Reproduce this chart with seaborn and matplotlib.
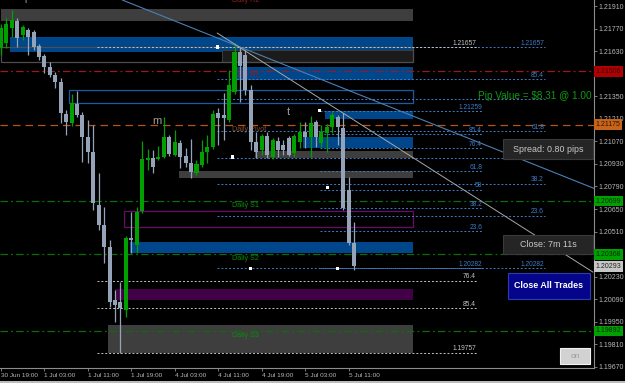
import numpy as np
import pandas as pd
import seaborn as sns
import matplotlib
matplotlib.use("Agg")
import matplotlib.pyplot as plt
import matplotlib.transforms as mtransforms
from matplotlib.patches import Rectangle

# ---------------- data (EURUSD-like H1 candles) -------------
opens = [1.21651, 1.21682, 1.21775, 1.21818, 1.21731, 1.21763, 1.21750, 1.21663, 1.21601, 1.21533,
         1.21483, 1.21439, 1.21241, 1.21185, 1.21303, 1.21234, 1.21098, 1.21004, 1.20675, 1.20551,
         1.20414, 1.20085, 1.20072, 1.20022, 1.20470, 1.20426, 1.20638, 1.20955, 1.20967, 1.20961,
         1.20973, 1.21098, 1.20986, 1.21060, 1.20980, 1.20936, 1.20874, 1.20924, 1.21004, 1.21035,
         1.21247, 1.21234, 1.21203, 1.21377, 1.21626, 1.21607, 1.21390, 1.21066, 1.21017, 1.21104,
         1.20973, 1.21073, 1.21048, 1.21091, 1.20998, 1.21066, 1.21129, 1.21098, 1.21191, 1.21060,
         1.21122, 1.21160, 1.21222, 1.21153, 1.20768, 1.20439]
highs = [1.21800, 1.21837, 1.21887, 1.21837, 1.21794, 1.21775, 1.21763, 1.21676, 1.21614, 1.21564,
         1.21502, 1.21464, 1.21265, 1.21365, 1.21384, 1.21253, 1.21203, 1.21172, 1.20874, 1.20663,
         1.20457, 1.20147, 1.20196, 1.20482, 1.20631, 1.20663, 1.21073, 1.21023, 1.21017, 1.21042,
         1.21222, 1.21110, 1.21141, 1.21079, 1.21029, 1.21085, 1.20955, 1.21079, 1.21110, 1.21265,
         1.21278, 1.21371, 1.21514, 1.21682, 1.21657, 1.21638, 1.21421, 1.21129, 1.21116, 1.21129,
         1.21091, 1.21098, 1.21079, 1.21104, 1.21116, 1.21191, 1.21191, 1.21228, 1.21203, 1.21172,
         1.21178, 1.21253, 1.21234, 1.21247, 1.20849, 1.20569]
lows = [1.21607, 1.21651, 1.21719, 1.21657, 1.21700, 1.21607, 1.21638, 1.21576, 1.21495, 1.21470,
        1.21402, 1.21185, 1.21110, 1.21166, 1.21222, 1.20942, 1.20936, 1.20644, 1.20520, 1.20315,
        1.20041, 1.19948, 1.19757, 1.19979, 1.20377, 1.20377, 1.20625, 1.20892, 1.20874, 1.20955,
        1.20967, 1.20980, 1.20980, 1.20905, 1.20911, 1.20843, 1.20861, 1.20911, 1.20936, 1.21023,
        1.21048, 1.21079, 1.21191, 1.21365, 1.21315, 1.21359, 1.21017, 1.20967, 1.20986, 1.20967,
        1.20961, 1.20973, 1.20986, 1.20980, 1.20973, 1.21029, 1.21029, 1.20973, 1.21035, 1.21035,
        1.21004, 1.21122, 1.21048, 1.20644, 1.20426, 1.20271]
closes = [1.21775, 1.21800, 1.21825, 1.21713, 1.21781, 1.21719, 1.21657, 1.21595, 1.21533, 1.21483,
          1.21439, 1.21247, 1.21191, 1.21309, 1.21234, 1.21098, 1.21004, 1.20687, 1.20551, 1.20414,
          1.20072, 1.20053, 1.20035, 1.20470, 1.20457, 1.20631, 1.20961, 1.20967, 1.20911, 1.20973,
          1.21098, 1.20992, 1.21066, 1.20973, 1.20936, 1.20880, 1.20930, 1.21004, 1.21035, 1.21241,
          1.21216, 1.21216, 1.21421, 1.21626, 1.21539, 1.21390, 1.21066, 1.21004, 1.21104, 1.20986,
          1.21079, 1.21017, 1.21017, 1.20986, 1.21104, 1.21129, 1.21098, 1.21185, 1.21098, 1.21129,
          1.21160, 1.21234, 1.21160, 1.20656, 1.20439, 1.20293]

time_tick_bars = [0, 8, 16, 24, 32, 40, 48, 56, 64]
time_tick_labels = ["30 Jun 19:00", "1 Jul 03:00", "1 Jul 11:00", "1 Jul 19:00", "4 Jul 03:00",
                    "4 Jul 11:00", "4 Jul 19:00", "5 Jul 03:00", "5 Jul 11:00"]
price_ticks = [1.21910, 1.21770, 1.21630, 1.21490, 1.21350, 1.21210, 1.21070, 1.20930, 1.20790,
               1.20650, 1.20510, 1.20370, 1.20230, 1.20090, 1.19950, 1.19810, 1.19670]
# tick labels that sit fully behind a price marker box in the reference
hidden_tick_labels = [1.21490, 1.20370]

# supply / demand zones: (start bar, end bar, low, high)
zone_start = [0.0, 1.7, 42.5, 59.7, 55.6, 46.8, 32.8, 23.8, 21.0, 19.7]
zone_end = [75.9, 75.9, 75.9, 75.9, 75.9, 75.9, 75.9, 75.9, 75.9, 75.9]
zone_low = [1.21818, 1.21626, 1.21452, 1.21209, 1.21029, 1.20967, 1.20843, 1.20377, 1.20085, 1.19755]
zone_high = [1.21893, 1.21719, 1.21533, 1.21259, 1.21098, 1.21011, 1.20886, 1.20445, 1.20153, 1.19929]
zone_kind = ["gray", "blue", "blue", "blue", "blue", "gray", "gray", "blue", "purple", "gray"]

# outlined boxes: (start bar, low, high)
box_start = [0.0, 12.5, 22.6]
box_low = [1.21564, 1.21309, 1.20538]
box_high = [1.21657, 1.21390, 1.20638]
box_kind = ["gray", "blue", "purple"]

# daily pivots
pivot_names = ["Daily R1", "Daily Pivot", "Daily S1", "Daily S2", "Daily S3"]
pivot_prices = [1.21506, 1.21175, 1.20699, 1.20368, 1.19892]

# Fibonacci sets
fibA_prices = [1.21657, 1.21456, 1.21333, 1.21132, 1.20970, 1.20807, 1.20607, 1.20282]
fibA_labels = ["1.21657", "85.4", "", "61.8", "50", "38.2", "23.6", "1.20282"]
fibB_prices = [1.21259, 1.21116, 1.21028, 1.20886, 1.20771, 1.20655, 1.20513, 1.20282]
fibB_labels = ["1.21259", "85.4", "76.4", "61.8", "50", "38.2", "23.6", "1.20282"]
fibC_prices = [1.21657, 1.20205, 1.20034, 1.19757]
fibC_labels = ["1.21657", "76.4", "85.4", "1.19757"]

# anchor dots
dot_bars = [39.8, 42.7, 58.7, 60.2, 45.9, 61.9]
dot_prices = [1.21657, 1.20973, 1.21265, 1.20781, 1.20283, 1.20283]

# trend lines: (bar, price) pairs
blue_trend = ([44.0, 109.0], [1.21657, 1.20781])
gray_trend = ([39.8, 109.0], [1.21744, 1.20258])

# right-edge price markers
marker_prices = [1.21506, 1.21175, 1.20699, 1.20368, 1.20293, 1.19892]
marker_kind = ["red", "orange", "green", "green", "gray", "green"]

# ---------------- styling ----------------
sns.set_theme(style="ticks", rc={
    "figure.facecolor": "black", "axes.facecolor": "black", "savefig.facecolor": "black",
    "axes.edgecolor": "#8c8c8c", "text.color": "#c0c0c0",
    "xtick.color": "#8c8c8c", "ytick.color": "#8c8c8c",
    "xtick.labelcolor": "#b8b8b8", "ytick.labelcolor": "#b8b8b8", "axes.grid": False})
plt.rcParams["font.family"] = ["Liberation Sans", "DejaVu Sans"]

W, H = 625, 383
fig = plt.figure(figsize=(W / 100, H / 100), dpi=100)
ax = fig.add_axes([0, 15 / H, 594 / W, 368 / H])
ax.set_facecolor("black")
ax.set_xlim(-0.184, 109.2)
ax.set_ylim(1.19662, 1.21949)

zone_colors = {"gray": "#3e3e3e", "blue": "#00468a", "purple": "#420046"}
for s, e, lo, hi, k in zip(zone_start, zone_end, zone_low, zone_high, zone_kind):
    ax.add_patch(Rectangle((s, lo), e - s, hi - lo, facecolor=zone_colors[k], edgecolor="none", zorder=1))

# dark filled box inside the grey outlined box
ax.add_patch(Rectangle((40.7, 1.21564), 75.9 - 40.7, 1.21638 - 1.21564,
                       facecolor="#1b1b1b", edgecolor="#3a3a3a", lw=0.8, zorder=1.2))
box_colors = {"gray": "#4e4e4e", "blue": "#1d5aa6", "purple": "#6c0a6c"}
for s, lo, hi, k in zip(box_start, box_low, box_high, box_kind):
    ax.add_patch(Rectangle((s, lo), 75.9 - s, hi - lo, facecolor="none",
                           edgecolor=box_colors[k], lw=0.9, zorder=1.5))

# pivot lines
piv_color = ["#9c1a1a", "#b4561c", "#0a6e0a", "#0a6e0a", "#0a6e0a"]
piv_text = ["#8e1e1e", "#8e4a1a", "#0c8a0c", "#0c8a0c", "#0c8a0c"]
for name, p, c, tc in zip(pivot_names, pivot_prices, piv_color, piv_text):
    ls = (0, (6, 4)) if name == "Daily Pivot" else (0, (6, 2.5, 1.5, 2.5))
    ax.axhline(p, color=c, lw=0.9, ls=ls, zorder=2)
    ax.text(42.5, p - 0.00006, name, color=tc, fontsize=5.2, ha="left", va="top", zorder=3)
ax.text(42.5, 1.21968, "Daily R2", color="#8e1e1e", fontsize=5.2, ha="left", va="top",
        zorder=3, clip_on=True)

# fib lines
fib_blue, fib_white = "#3d7cc6", "#c4c4c4"
dots = (0, (2, 2))
for p, lab in zip(fibA_prices, fibA_labels):
    ax.plot([39.8, 100.2], [p, p], color=fib_blue, lw=0.7, ls=dots, zorder=3)
    if lab:
        ax.text(100.0, p + 0.00003, lab, color=fib_blue, fontsize=4.8, ha="right", va="bottom", zorder=3)
for p, lab in zip(fibB_prices, fibB_labels):
    ax.plot([58.7, 88.8], [p, p], color=fib_blue, lw=0.7, ls=dots, zorder=3)
    ax.text(88.6, p + 0.00003, lab, color=fib_blue, fontsize=4.8, ha="right", va="bottom", zorder=3)
for p, lab in zip(fibC_prices, fibC_labels):
    ax.plot([17.7, 87.7], [p, p], color=fib_white, lw=0.7, ls=dots, zorder=3)
    ax.text(87.5, p + 0.00003, lab, color=fib_white, fontsize=4.8, ha="right", va="bottom", zorder=3)

# candles
df = pd.DataFrame({"o": opens, "h": highs, "l": lows, "c": closes})
df["bar"] = np.arange(len(df))
df["up"] = df["c"] > df["o"]
cols = np.where(df["up"], "#00a000", "#95a3b8")
ax.vlines(df["bar"], df["l"], df["h"], colors=cols, lw=0.9, zorder=4)
body_lo = np.minimum(df["o"], df["c"])
body_h = np.maximum((df["c"] - df["o"]).abs(), 0.00005)
ax.bar(df["bar"], body_h, bottom=body_lo, width=0.74, color=cols, linewidth=0, zorder=5)

# trend lines
ax.axline((blue_trend[0][0], blue_trend[1][0]), (blue_trend[0][1], blue_trend[1][1]),
          color="#4a80b4", lw=0.8, zorder=6)
sns.lineplot(x=gray_trend[0], y=gray_trend[1], ax=ax, color="#a8a8a8", lw=0.7, zorder=6)

# anchor dots
sns.scatterplot(x=dot_bars, y=dot_prices, ax=ax, marker="s", s=5, color="white",
                edgecolor="none", zorder=8)

# small indicator letters
ax.text(28.7, 1.21197, "m", color="#a0a0a0", fontsize=8, ha="center", va="center", zorder=7)
ax.text(52.9, 1.21253, "t", color="#a0a0a0", fontsize=8, ha="center", va="center", zorder=7)
ax.text(4.6, 1.21949, "r", color="#a0a0a0", fontsize=7, ha="center", va="center", zorder=7, clip_on=True)

# axes / ticks
for side in ["top", "left"]:
    ax.spines[side].set_visible(False)
for side in ["right", "bottom"]:
    ax.spines[side].set_color("#8c8c8c")
    ax.spines[side].set_linewidth(0.8)
ax.yaxis.tick_right()
ax.set_yticks(price_ticks)
ax.set_yticklabels(["" if p in hidden_tick_labels else f"{p:.5f}" for p in price_ticks], fontsize=5)
ax.tick_params(axis="y", direction="out", length=2.2, width=0.6, pad=0.8)
ax.set_xticks(time_tick_bars)
ax.set_xticklabels(time_tick_labels, fontsize=4.6)
ax.tick_params(axis="x", direction="out", length=2.2, width=0.6, pad=1.5)
for lbl in ax.get_xticklabels():
    lbl.set_horizontalalignment("left")
ax.set_xlabel("")
ax.set_ylabel("")
if ax.get_legend():
    ax.get_legend().remove()

# right-edge price markers
mk_bg = {"red": "#b00000", "orange": "#c8641a", "green": "#00a000", "gray": "#c6c6c6"}
mk_fg = {"red": "#3c0000", "orange": "#301400", "green": "#002a00", "gray": "#222222"}
trans = mtransforms.blended_transform_factory(ax.transAxes, ax.transData)
for p, k in zip(marker_prices, marker_kind):
    ax.text(1.003, p, f"{p:.5f}", transform=trans, fontsize=5, color=mk_fg[k], ha="left",
            va="center", clip_on=False, zorder=10,
            bbox=dict(boxstyle="square,pad=0.25", fc=mk_bg[k], ec="none"))

# overlay panels
def fbox(x0, y0, x1, y1, fc, ec, lw=0.8):
    fig.patches.append(Rectangle((x0 / W, 1 - y1 / H), (x1 - x0) / W, (y1 - y0) / H,
                                 transform=fig.transFigure, facecolor=fc, edgecolor=ec,
                                 lw=lw, zorder=20))

fig.text(592 / W, 1 - 96 / H, "Pip Value = $8.31 @ 1.00", color="#119a11", fontsize=7.2,
         ha="right", va="center", zorder=21)
fbox(503, 139, 593, 159, "#252525", "#3a3a3a")
fig.text(548 / W, 1 - 149 / H, "Spread: 0.80 pips", color="#c8c8c8", fontsize=6.4,
         ha="center", va="center", zorder=21)
fbox(503, 235, 593, 254, "#252525", "#3a3a3a")
fig.text(548 / W, 1 - 244.5 / H, "Close: 7m 11s", color="#c8c8c8", fontsize=6.4,
         ha="center", va="center", zorder=21)
fbox(508, 273, 590, 299, "#05058c", "#2a3cb0")
fig.text(549 / W, 1 - 286 / H, "Close All Trades", color="white", fontsize=6.4,
         fontweight="bold", ha="center", va="center", zorder=21)
fbox(560, 348, 590, 364, "#d2d2d2", "#f2f2f2")
fig.text(575 / W, 1 - 356 / H, "on", color="#9a9a9a", fontsize=6, ha="center", va="center", zorder=21)
fbox(0, 381, 625, 383, "#bcbcbc", "none", lw=0)

fig.savefig("out.png", dpi=100, facecolor="black")
